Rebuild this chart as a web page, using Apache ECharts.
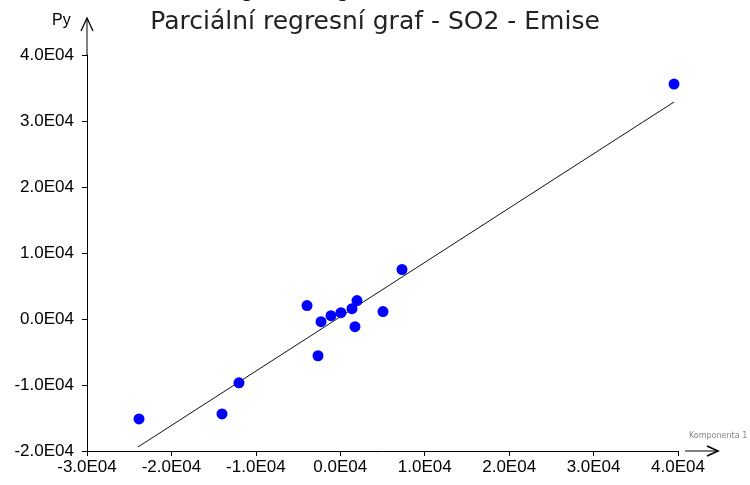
<!DOCTYPE html>
<html>
<head>
<meta charset="utf-8">
<script src="https://cdn.jsdelivr.net/npm/echarts@6/dist/echarts.min.js"></script>
<style>
  html, body { margin: 0; padding: 0; background: #fff; }
  #chart { width: 750px; height: 485px; }
</style>
</head>
<body>
<div id="chart"></div>
<script>
// Partial regression plot: component 1 (x) vs. partial residual Py (y)
const componentX = [-23840, -14010, -12000, -3940, -2640, -2280, -1100, 80, 1390, 1980, 1740, 5060, 7310, 39530];
const partialY   = [-15140, -14380, -9670, 2030, -5570, -400, 510, 960, 1570, 2790, -1160, 1120, 7500, 35600];

// Fitted regression line end points
const fitX = [-23960, 39530];
const fitY = [-19390, 32880];

// Axis tick labels
const xTickLabels = ['-3.0E04', '-2.0E04', '-1.0E04', '0.0E04', '1.0E04', '2.0E04', '3.0E04', '4.0E04'];
const yTickLabels = ['-2.0E04', '-1.0E04', '0.0E04', '1.0E04', '2.0E04', '3.0E04', '4.0E04'];

const titleText = 'Parciální regresní graf - SO2 - Emise';
const headerText = 'Regresní diagnostika';
const yName = 'Py';
const xName = 'Komponenta 1';

const chart = echarts.init(document.getElementById('chart'), null, { renderer: 'canvas' });

const tickFont = { fontFamily: 'Liberation Sans', fontSize: 17, color: '#000' };

chart.setOption({
  animation: false,
  backgroundColor: '#fff',
  title: {
    text: titleText,
    left: 'center',
    top: 5,
    textStyle: { fontFamily: 'DejaVu Sans', fontSize: 25, fontWeight: 'normal', color: '#222' }
  },
  grid: { left: 87, right: 72, top: 55, bottom: 34, containLabel: false },
  xAxis: {
    type: 'value',
    min: -30000, max: 40000, interval: 10000,
    axisLine: { onZero: false, lineStyle: { color: '#000', width: 1 } },
    axisTick: { show: true, length: 5, lineStyle: { color: '#000' } },
    axisLabel: Object.assign({ margin: 8, formatter: (v, i) => xTickLabels[i] }, tickFont),
    splitLine: { show: false }
  },
  yAxis: {
    type: 'value',
    min: -20000, max: 40000, interval: 10000,
    axisLine: { show: true, onZero: false, lineStyle: { color: '#000', width: 1 } },
    axisTick: { show: true, length: 5, lineStyle: { color: '#000' } },
    axisLabel: Object.assign({ margin: 13, formatter: (v, i) => yTickLabels[i] }, tickFont),
    splitLine: { show: false }
  },
  series: [
    {
      type: 'line',
      data: fitX.map((x, i) => [x, fitY[i]]),
      symbol: 'none',
      lineStyle: { color: '#111', width: 1 },
      z: 2
    },
    {
      type: 'scatter',
      data: componentX.map((x, i) => [x, partialY[i]]),
      symbol: 'circle',
      symbolSize: 11,
      itemStyle: { color: '#0000ff', opacity: 1 },
      z: 3
    }
  ],
  graphic: [
    // header line running off the top edge
    { type: 'text', x: 217, y: -16, style: { text: headerText, font: 'bold 17px "DejaVu Sans"', fill: '#000' } },
    // y axis extension with arrow
    { type: 'line', shape: { x1: 87, y1: 55, x2: 87, y2: 18 }, style: { stroke: '#000', lineWidth: 1 } },
    { type: 'polyline', shape: { points: [[81, 31], [87, 18], [93, 31]] }, style: { stroke: '#000', lineWidth: 1.3, fill: null } },
    { type: 'text', x: 52, y: 13, style: { text: yName, font: '16px "Liberation Sans"', fill: '#000' } },
    // x axis arrow
    { type: 'line', shape: { x1: 685, y1: 451, x2: 718, y2: 451 }, style: { stroke: '#000', lineWidth: 1 } },
    { type: 'polyline', shape: { points: [[707, 446], [718, 451], [707, 456]] }, style: { stroke: '#000', lineWidth: 1.6, fill: null } },
    { type: 'text', x: 689, y: 432, style: { text: xName, font: '8px "DejaVu Sans"', fill: '#888' } }
  ]
});
</script>
</body>
</html>
